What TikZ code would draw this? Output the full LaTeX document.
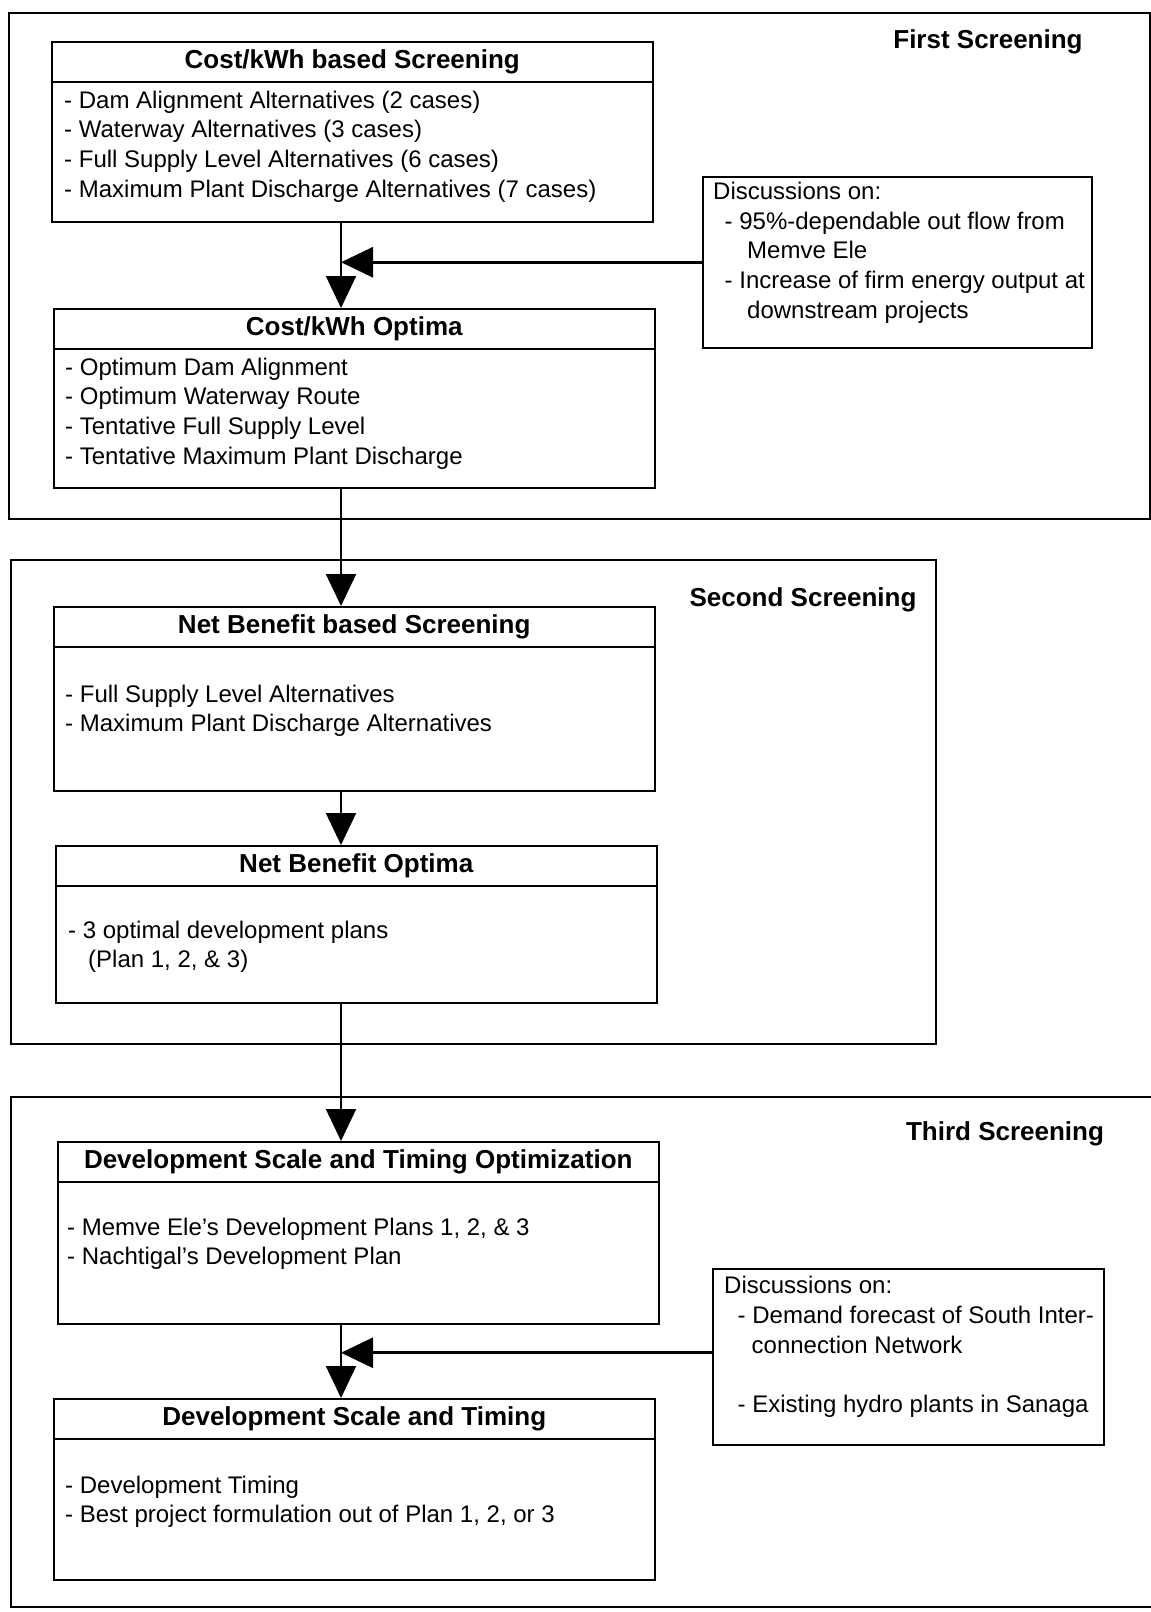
\documentclass[tikz,border=0pt]{standalone}
\usepackage{fontspec}
\setmainfont{Liberation Sans}
\usetikzlibrary{positioning,arrows.meta}
\tikzset{
>={Triangle[length=32pt,width=30pt]},
  screen/.style={
    draw, line width=2pt,
    anchor=north west,
    inner sep=0pt},
  stagebox/.style={
    draw, line width=1.5pt,
    anchor=north west,
    minimum width=601pt,
    inner sep=0pt},
  stagehead/.style={
    draw, line width=1.5pt,
    anchor=north,
    minimum width=601pt,
    minimum height=40pt,
    inner sep=0pt,
    font=\bfseries\fontsize{26pt}{30pt}\selectfont},
  stagetext/.style={
    anchor=north west,
    inner sep=0pt,
    align=left,
    font=\fontsize{24pt}{29.7pt}\selectfont},
  screenname/.style={font=\bfseries\fontsize{26pt}{30pt}\selectfont},
  flow/.style={draw, line width=2pt, ->},
  feed/.style={draw, line width=3pt, ->},
}
\begin{document}
\begin{tikzpicture}[x=1pt,y=-1pt]
  \useasboundingbox (0,0) rectangle (1151,1612);
  \coordinate (spine) at (341,0);
  % screening frames
  \node[screen, minimum width=1141pt, minimum height=506pt] (scr1) at (8,12) {};
  \node[screen, minimum width=925pt, minimum height=484pt] (scr2) at (10,559) {};
  \node[screen, minimum width=1150pt, minimum height=510pt] (scr3) at (10,1096) {};
  \node[screenname] (scr1-l) at (988,42) {First Screening};
  \node[screenname] (scr2-l) at (803,600) {Second Screening};
  \node[screenname] (scr3-l) at (1005,1134) {Third Screening};
  % first screening
  \node[stagebox, minimum height=180pt] (cscr) at (51,41) {};
  \node[stagehead] (cscr-h) at (cscr.north) {Cost/kWh based Screening};
  \node[stagetext, below right=8pt and 13pt of cscr-h.south west] (cscr-t)
    {- Dam Alignment Alternatives (2 cases)\\
     - Waterway Alternatives (3 cases)\\
     - Full Supply Level Alternatives (6 cases)\\
     - Maximum Plant Discharge Alternatives (7 cases)};
  \node[stagebox, minimum height=179pt] (copt) at (53,308) {};
  \node[stagehead] (copt-h) at (copt.north) {Cost/kWh Optima};
  \node[stagetext, below right=8pt and 12pt of copt-h.south west] (copt-t)
    {- Optimum Dam Alignment\\
     - Optimum Waterway Route\\
     - Tentative Full Supply Level\\
     - Tentative Maximum Plant Discharge};
  \node[draw, line width=1.5pt, anchor=north west, inner sep=0pt,
    minimum width=389pt, minimum height=171pt] (disc1) at (702,176) {};
  \node[stagetext, below right=6pt and 11pt of disc1.north west] (disc1-t)
    {Discussions on:\\
     \hspace*{11.5pt}- 95\%-dependable out flow from\\
     \hspace*{34pt}Memve Ele\\
     \hspace*{11.5pt}- Increase of firm energy output at\\
     \hspace*{34pt}downstream projects};
  % second screening
  \node[stagebox, minimum height=184pt] (nbscr) at (53,606) {};
  \node[stagehead] (nbscr-h) at (nbscr.north) {Net Benefit based Screening};
  \node[stagetext, below right=37pt and 12pt of nbscr-h.south west] (nbscr-t)
    {- Full Supply Level Alternatives\\
     - Maximum Plant Discharge Alternatives};
  \node[stagebox, minimum height=157pt] (nbopt) at (55,845) {};
  \node[stagehead] (nbopt-h) at (nbopt.north) {Net Benefit Optima};
  \node[stagetext, below right=34pt and 13pt of nbopt-h.south west] (nbopt-t)
    {- 3 optimal development plans\\
     \hspace*{20pt}(Plan 1, 2, \& 3)};
  % third screening
  \node[stagebox, minimum height=182pt] (dsto) at (57,1141) {};
  \node[stagehead] (dsto-h) at (dsto.north) {Development Scale and Timing Optimization};
  \node[stagetext, below right=35pt and 10pt of dsto-h.south west] (dsto-t)
    {- Memve Ele's Development Plans 1, 2, \& 3\\
     - Nachtigal's Development Plan};
  \node[stagebox, minimum height=181pt] (dst) at (53,1398) {};
  \node[stagehead] (dst-h) at (dst.north) {Development Scale and Timing};
  \node[stagetext, below right=36pt and 12pt of dst-h.south west] (dst-t)
    {- Development Timing\\
     - Best project formulation out of Plan 1, 2, or 3};
  \node[draw, line width=1.5pt, anchor=north west, inner sep=0pt,
    minimum width=391pt, minimum height=176pt] (disc2) at (712,1268) {};
  \node[stagetext, below right=8pt and 12pt of disc2.north west] (disc2-t)
    {Discussions on:\\
     \hspace*{13.5pt}- Demand forecast of South Inter-\\
     \hspace*{27.5pt}connection Network\\[29.7pt]
     \hspace*{13.5pt}- Existing hydro plants in Sanaga};
  % connectors
  \draw[flow] (cscr.south -| spine) -- (copt.north -| spine);
  \draw[flow] (copt.south -| spine) -- (nbscr.north -| spine);
  \draw[flow] (nbscr.south -| spine) -- (nbopt.north -| spine);
  \draw[flow] (nbopt.south -| spine) -- (dsto.north -| spine);
  \draw[flow] (dsto.south -| spine) -- (dst.north -| spine);
  \draw[feed] (disc1.west) -- (disc1.west -| spine);
  \draw[feed] ([yshift=4pt]disc2.west) -- ([yshift=4pt]disc2.west -| spine);
\end{tikzpicture}
\end{document}
